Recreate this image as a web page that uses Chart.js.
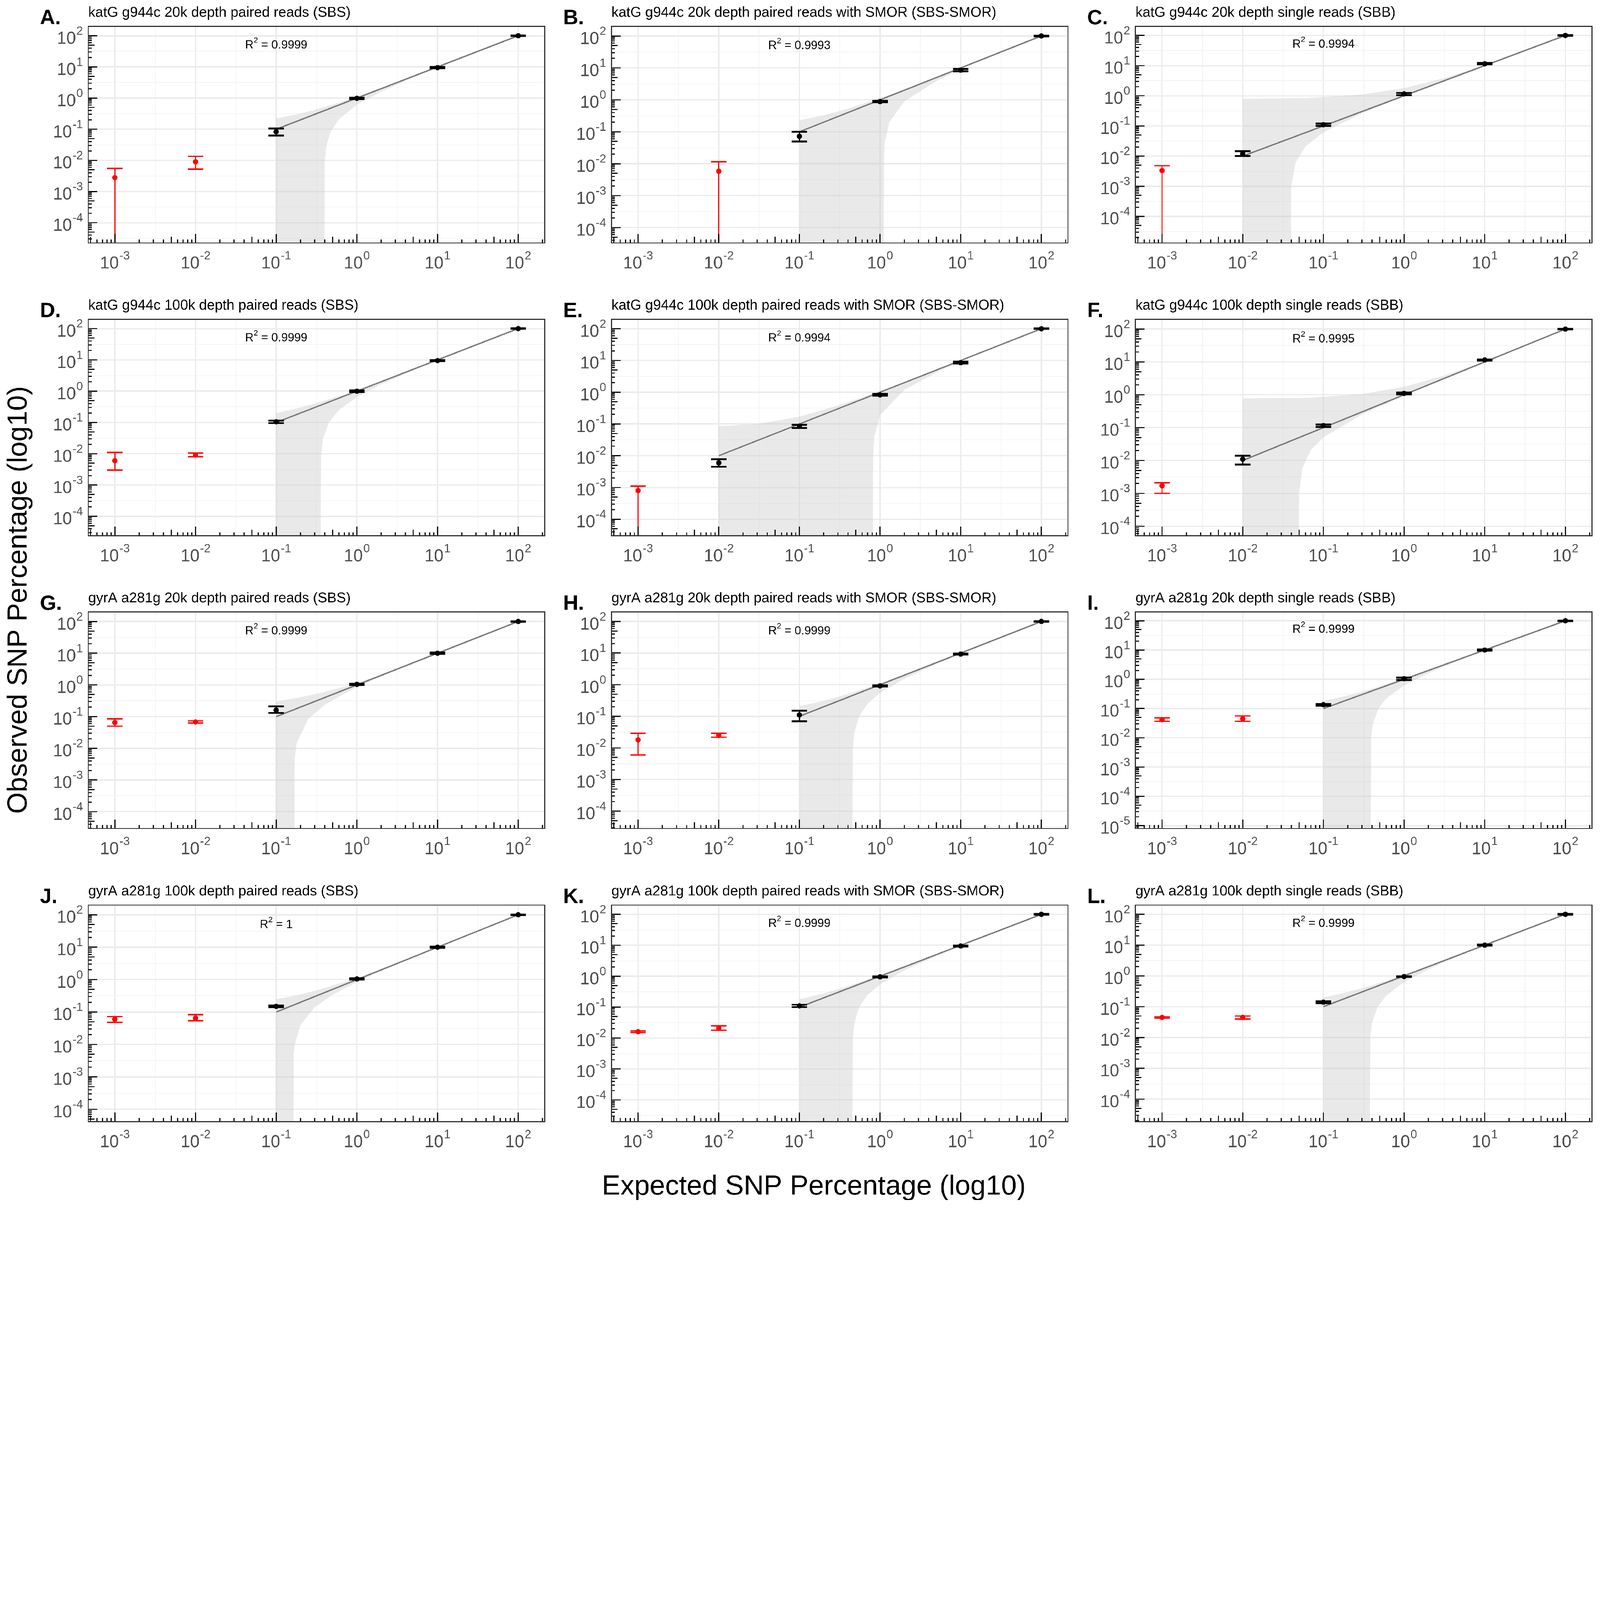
<!DOCTYPE html>
<html><head><meta charset="utf-8">
<script src="https://cdn.jsdelivr.net/npm/chart.js@4"></script>
<style>html,body{margin:0;padding:0;background:#fff;overflow:hidden}#wrap{position:absolute;left:0;top:0;width:6000px;height:4500px;transform-origin:0 0}canvas{position:absolute}</style>
</head><body>
<div id="wrap"><canvas id="bg" width="6000" height="4500" style="left:0;top:0"></canvas></div>
<script>
// ---------------- DATA ----------------
const letters = ["A.","B.","C.","D.","E.","F.","G.","H.","I.","J.","K.","L."];
const titles = [
 "katG g944c 20k depth paired reads (SBS)","katG g944c 20k depth paired reads with SMOR (SBS-SMOR)","katG g944c 20k depth single reads (SBB)",
 "katG g944c 100k depth paired reads (SBS)","katG g944c 100k depth paired reads with SMOR (SBS-SMOR)","katG g944c 100k depth single reads (SBB)",
 "gyrA a281g 20k depth paired reads (SBS)","gyrA a281g 20k depth paired reads with SMOR (SBS-SMOR)","gyrA a281g 20k depth single reads (SBB)",
 "gyrA a281g 100k depth paired reads (SBS)","gyrA a281g 100k depth paired reads with SMOR (SBS-SMOR)","gyrA a281g 100k depth single reads (SBB)"];
const r2Labels = ["0.9999","0.9993","0.9994","0.9999","0.9994","0.9995","0.9999","0.9999","0.9999","1","0.9999","0.9999"];
const expected = [0.001,0.01,0.1,1,10,100];
const obs = [
 [0.0028,0.009,0.083,0.98,9.5,100],
 [null,0.0058,0.072,0.88,8.5,100],
 [0.0033,0.012,0.11,1.15,11.5,100],
 [0.006,0.009,0.105,1.0,9.5,100],
 [0.0008,0.006,0.085,0.82,8.5,100],
 [0.0017,0.011,0.115,1.1,11.5,100],
 [0.065,0.068,0.16,1.05,10,100],
 [0.018,0.025,0.11,0.92,9.3,100],
 [0.042,0.045,0.135,1.05,10,100],
 [0.06,0.065,0.15,1.05,10,100],
 [0.016,0.021,0.11,0.95,9.5,100],
 [0.045,0.045,0.14,0.95,10,100]];
const obsLo = [
 [0,0.0052,0.063,0.93,9.0,98],
 [null,0,0.05,0.84,7.8,98],
 [0,0.010,0.10,1.05,11,98],
 [0.003,0.008,0.095,0.95,9.1,98],
 [0,0.0045,0.075,0.78,8.0,98],
 [0.001,0.0075,0.105,1.03,11,98],
 [0.05,0.063,0.13,1.0,9.6,98],
 [0.006,0.022,0.07,0.88,9.0,98],
 [0.037,0.037,0.125,0.95,9.6,98],
 [0.048,0.054,0.14,1.0,9.6,98],
 [0.015,0.018,0.10,0.92,9.2,98],
 [0.043,0.040,0.13,0.92,9.6,98]];
const obsHi = [
 [0.0055,0.0135,0.105,1.03,10.0,102],
 [null,0.0115,0.10,0.93,9.3,102],
 [0.0048,0.0145,0.12,1.25,12.2,102],
 [0.011,0.0105,0.115,1.05,9.9,102],
 [0.0011,0.0078,0.095,0.88,9.2,102],
 [0.0021,0.014,0.125,1.17,12.0,102],
 [0.085,0.073,0.21,1.1,10.4,102],
 [0.029,0.029,0.15,0.96,9.6,102],
 [0.048,0.056,0.145,1.15,10.4,102],
 [0.072,0.083,0.16,1.1,10.4,102],
 [0.017,0.025,0.12,0.98,9.8,102],
 [0.047,0.050,0.15,0.98,10.4,102]];
const redCount = [2,2,1,2,1,1,2,2,2,2,2,2];
const fitX = [[0.1,100],[0.1,100],[0.01,100],[0.1,100],[0.01,100],[0.01,100],[0.1,100],[0.1,100],[0.1,100],[0.1,100],[0.1,100],[0.1,100]];
const fitY = [[0.1,100],[0.1,100],[0.01,100],[0.1,100],[0.01,100],[0.01,100],[0.1,100],[0.1,100],[0.1,100],[0.1,100],[0.1,100],[0.1,100]];
const bandX = [
 [0.1,0.2,0.3,0.39,0.4,0.42,0.47,0.6,1,2,5,10],
 [0.1,0.2,0.3,0.5,1.1,1.12,1.15,1.3,2,5,10],
 [0.01,0.03,0.039,0.04,0.045,0.06,0.1,0.3,1,3,10],
 [0.1,0.2,0.3,0.35,0.36,0.38,0.45,0.6,1,2,5,10],
 [0.01,0.03,0.1,0.3,0.81,0.82,0.85,1,2,5,10],
 [0.01,0.03,0.049,0.05,0.055,0.07,0.1,0.3,1,3,10],
 [0.1,0.15,0.165,0.17,0.18,0.25,0.4,0.7,1,2,5],
 [0.1,0.2,0.3,0.45,0.46,0.48,0.55,0.7,1,2,5,10],
 [0.1,0.2,0.3,0.38,0.39,0.41,0.48,0.6,1,2,5],
 [0.1,0.13,0.16,0.165,0.17,0.2,0.3,0.5,1,2,5],
 [0.1,0.2,0.3,0.45,0.46,0.48,0.55,0.7,1,2,5],
 [0.1,0.2,0.3,0.37,0.38,0.4,0.47,0.6,1,2,5]];
const bandUp = [
 [0.22,0.32,0.42,0.51,0.52,0.54,0.59,0.72,1.1,2.1,5.05,10],
 [0.23,0.33,0.43,0.63,1.25,1.27,1.3,1.45,2.15,5.1,10.05],
 [0.8,0.82,0.83,0.83,0.84,0.85,0.9,1.1,1.8,3.7,10.3],
 [0.2,0.3,0.4,0.45,0.46,0.48,0.55,0.7,1.08,2.06,5.03,10],
 [0.085,0.1,0.17,0.38,0.9,0.91,0.94,1.1,2.1,5.1,10.05],
 [0.78,0.79,0.8,0.8,0.81,0.82,0.86,1.05,1.75,3.7,10.3],
 [0.3,0.36,0.38,0.38,0.39,0.46,0.6,0.88,1.15,2.1,5.05],
 [0.21,0.31,0.41,0.56,0.57,0.59,0.66,0.81,1.1,2.1,5.05,10],
 [0.18,0.28,0.38,0.46,0.47,0.49,0.56,0.68,1.07,2.05,5.02],
 [0.25,0.28,0.31,0.32,0.32,0.35,0.45,0.65,1.12,2.08,5.03],
 [0.18,0.28,0.38,0.53,0.54,0.56,0.63,0.78,1.07,2.05,5.02],
 [0.2,0.3,0.4,0.47,0.48,0.5,0.57,0.7,1.08,2.05,5.02]];
const bandLo = [
 [1e-9,1e-9,1e-9,1e-9,0.01,0.03,0.08,0.21,0.61,1.6,4.6,9.6],
 [1e-9,1e-9,1e-9,1e-9,1e-9,0.02,0.05,0.2,0.9,3.9,8.9],
 [1e-9,1e-9,1e-9,0.001,0.006,0.021,0.061,0.26,0.96,2.96,9.96],
 [1e-9,1e-9,1e-9,1e-9,0.01,0.03,0.1,0.25,0.65,1.65,4.65,9.65],
 [1e-9,1e-9,1e-9,1e-9,1e-9,0.01,0.04,0.19,1.19,4.19,9.2],
 [1e-9,1e-9,1e-9,0.001,0.006,0.021,0.051,0.25,0.95,2.95,9.95],
 [1e-9,1e-9,1e-9,0.005,0.015,0.085,0.235,0.535,0.84,1.84,4.84],
 [1e-9,1e-9,1e-9,1e-9,0.01,0.03,0.1,0.25,0.55,1.55,4.55,9.55],
 [1e-9,1e-9,1e-9,1e-9,0.01,0.03,0.1,0.22,0.62,1.62,4.62],
 [1e-9,1e-9,1e-9,0.005,0.01,0.04,0.14,0.34,0.84,1.84,4.84],
 [1e-9,1e-9,1e-9,1e-9,0.01,0.03,0.1,0.25,0.55,1.55,4.55],
 [1e-9,1e-9,1e-9,1e-9,0.01,0.03,0.1,0.23,0.63,1.63,4.63]];
const xRangeExp = [-3.33,2.33];
const yTopExp = 2.3;
const yBottomExp = [-4.65,-4.48,-4.88,-4.62,-4.52,-4.29,-4.53,-4.55,-5.1,-4.38,-4.7,-4.73];
const xDecades = [-3,-2,-1,0,1,2];

// ---------------- LAYOUT ----------------
const wrap = document.getElementById('wrap');
wrap.style.transform = 'scale(' + (window.innerWidth/6000) + ')';
const colLeft = [331,2293,4258], rowTop = [99,1197,2295,3394];
const PW = 1712, PH = 812, PADL = 220, PADT = 120, PADB = 140, PADR = 20;
const FONT = '"Liberation Sans", Arial, sans-serif';

function txt(ctx, s, x, y, size, align, weight){
  ctx.font = (weight||'') + ' ' + size + 'px ' + FONT;
  ctx.textAlign = align || 'left'; ctx.textBaseline = 'alphabetic';
  ctx.fillText(s, x, y);
}
function pow10Label(ctx, exp, x, y, align){
  ctx.font = '64px ' + FONT; const w1 = ctx.measureText('10').width;
  ctx.font = '44px ' + FONT; const e = String(exp); const w2 = ctx.measureText(e).width;
  const tot = w1 + w2 + 2;
  let x0 = align === 'right' ? x - tot : x - tot/2;
  ctx.fillStyle = '#4d4d4d';
  txt(ctx,'10',x0,y,64,'left');
  txt(ctx,e,x0+w1+2,y-34,44,'left');
}

const panelPlugin = {
  id:'panelDeco',
  beforeDatasetsDraw(chart){
    const {ctx} = chart; const i = chart.options.plugins.panelDeco.idx;
    const xs = chart.scales.x, ys = chart.scales.y;
    const cx = xs.getPixelForValue(0.1), cy = ys.getPixelForValue(39);
    ctx.save(); ctx.fillStyle='#000';
    ctx.font='44px '+FONT; const wR = ctx.measureText('R').width;
    const rest = ' = ' + r2Labels[i];
    const wRest = ctx.measureText(rest).width; ctx.font='30px '+FONT; const w2=ctx.measureText('2').width;
    const tot = wR + w2 + wRest; let x0 = cx - tot/2;
    txt(ctx,'R',x0,cy,44); txt(ctx,'2',x0+wR,cy-22,30); txt(ctx,rest,x0+wR+w2,cy,44);
    ctx.restore();
  },
  afterDatasetsDraw(chart){
    const {ctx, chartArea:a} = chart; const i = chart.options.plugins.panelDeco.idx;
    const xs = chart.scales.x, ys = chart.scales.y;
    ctx.save();
    ctx.beginPath(); ctx.rect(a.left,a.top,a.right-a.left,a.bottom-a.top); ctx.clip();
    for (let k=0;k<expected.length;k++){
      const v = obs[i][k]; if (v===null) continue;
      const red = k < redCount[i];
      ctx.strokeStyle = red ? '#ff0000' : '#000';
      const px = xs.getPixelForValue(expected[k]);
      const yh = ys.getPixelForValue(obsHi[i][k]);
      const yl = obsLo[i][k] > 0 ? ys.getPixelForValue(obsLo[i][k]) : a.bottom + 10;
      ctx.lineWidth = red ? 4 : 5;
      ctx.beginPath(); ctx.moveTo(px,yh); ctx.lineTo(px,yl); ctx.stroke();
      ctx.lineWidth = red ? 5 : 7;
      ctx.beginPath(); ctx.moveTo(px-29,yh); ctx.lineTo(px+29,yh);
      if (obsLo[i][k] > 0){ ctx.moveTo(px-29,yl); ctx.lineTo(px+29,yl); }
      ctx.stroke();
    }
    ctx.restore();
    ctx.save(); ctx.strokeStyle='#000'; ctx.lineWidth=4;
    for (let e=-6;e<=3;e++) for (let m=1;m<=9;m++){
      const v = m*Math.pow(10,e);
      const len = m===1?34:(m===5?23:13);
      if (v>=xs.min && v<=xs.max){ const p=xs.getPixelForValue(v); ctx.beginPath(); ctx.moveTo(p,a.bottom); ctx.lineTo(p,a.bottom-len); ctx.stroke(); }
      if (v>=ys.min && v<=ys.max){ const p=ys.getPixelForValue(v); ctx.beginPath(); ctx.moveTo(a.left,p); ctx.lineTo(a.left+len,p); ctx.stroke(); }
    }
    ctx.restore();
    ctx.save(); ctx.strokeStyle='#333'; ctx.lineWidth=4;
    ctx.strokeRect(a.left,a.top,a.right-a.left,a.bottom-a.top); ctx.restore();
    ctx.save();
    xDecades.forEach(e=>pow10Label(ctx,e,xs.getPixelForValue(Math.pow(10,e)),a.bottom+96,'center'));
    for (let e=-6;e<=3;e++){ const v=Math.pow(10,e); if (v>=ys.min && v<=ys.max) pow10Label(ctx,e,a.left-20,ys.getPixelForValue(v)+30,'right'); }
    ctx.fillStyle='#000';
    txt(ctx,titles[i],a.left,a.top-36,53);
    txt(ctx,letters[i],a.left-181,a.top-8,78,'left','bold');
    ctx.restore();
  }
};

function gridColor(c){
  const v = c.tick && c.tick.value; if (!v) return 'rgba(0,0,0,0)';
  const l = Math.log10(v); return Math.abs(l-Math.round(l))<1e-6 ? '#ebebeb' : '#f3f3f3';
}
function gridWidth(c){
  const v = c.tick && c.tick.value; if (!v) return 0;
  const l = Math.log10(v); return Math.abs(l-Math.round(l))<1e-6 ? 5 : 2.5;
}
function halfDecadeTicks(scale){
  const t=[]; for (let e=-12;e<=6;e++){ const v=Math.pow(10,e/2); if (v>=scale.min && v<=scale.max) t.push({value:v}); }
  scale.ticks = t;
}

for (let i=0;i<12;i++){
  const col=i%3,row=Math.floor(i/3);
  const cv=document.createElement('canvas');
  const W=PADL+PW+PADR,H=PADT+PH+PADB;
  cv.width=W;cv.height=H;cv.style.left=(colLeft[col]-PADL)+'px';cv.style.top=(rowTop[row]-PADT)+'px';
  wrap.appendChild(cv);
  const pts = expected.map((x,k)=>obs[i][k]===null?null:{x:x,y:obs[i][k]}).filter(p=>p);
  const cols = expected.map((x,k)=>k<redCount[i]?'#ff0000':'#000').filter((c,k)=>obs[i][k]!==null);
  new Chart(cv,{
    type:'line',
    data:{datasets:[
      {data:bandX[i].map((x,k)=>({x:x,y:bandLo[i][k]})),borderWidth:0,pointRadius:0,fill:false,order:3,tension:0},
      {data:bandX[i].map((x,k)=>({x:x,y:bandUp[i][k]})),borderWidth:0,pointRadius:0,fill:'-1',backgroundColor:'rgba(200,200,200,0.4)',order:3,tension:0},
      {data:fitX[i].map((x,k)=>({x:x,y:fitY[i][k]})),borderColor:'#777',borderWidth:5,pointRadius:0,fill:false,order:1},
      {data:pts,showLine:false,pointRadius:10,pointBackgroundColor:cols,pointBorderWidth:0,order:0}
    ]},
    options:{
      responsive:false,animation:false,devicePixelRatio:1,
      layout:{padding:{left:0,top:PADT,right:PADR,bottom:0}},
      plugins:{legend:{display:false},tooltip:{enabled:false},title:{display:false},panelDeco:{idx:i}},
      scales:{
        x:{type:'logarithmic',min:Math.pow(10,xRangeExp[0]),max:Math.pow(10,xRangeExp[1]),
           afterBuildTicks:halfDecadeTicks,afterFit:s=>{s.height=PADB;},
           ticks:{display:false},border:{display:false},grid:{color:gridColor,lineWidth:gridWidth,drawTicks:false}},
        y:{type:'logarithmic',min:Math.pow(10,yBottomExp[i]),max:Math.pow(10,yTopExp),
           afterBuildTicks:halfDecadeTicks,afterFit:s=>{s.width=PADL;},
           ticks:{display:false},border:{display:false},grid:{color:gridColor,lineWidth:gridWidth,drawTicks:false}}
      }
    },
    plugins:[panelPlugin]
  });
}
const bg=document.getElementById('bg').getContext('2d');
bg.fillStyle='#000';
function fitText(ctx,s,target){ ctx.font='100px '+FONT; return 100*target/ctx.measureText(s).width; }
let s1='Expected SNP Percentage (log10)'; let f1=fitText(bg,s1,1590);
txt(bg,s1,3052,4480,f1,'center');
let s2='Observed SNP Percentage (log10)'; let f2=fitText(bg,s2,1604);
bg.save(); bg.translate(100,2250); bg.rotate(-Math.PI/2); txt(bg,s2,0,0,f2,'center'); bg.restore();
</script>
</body></html>
